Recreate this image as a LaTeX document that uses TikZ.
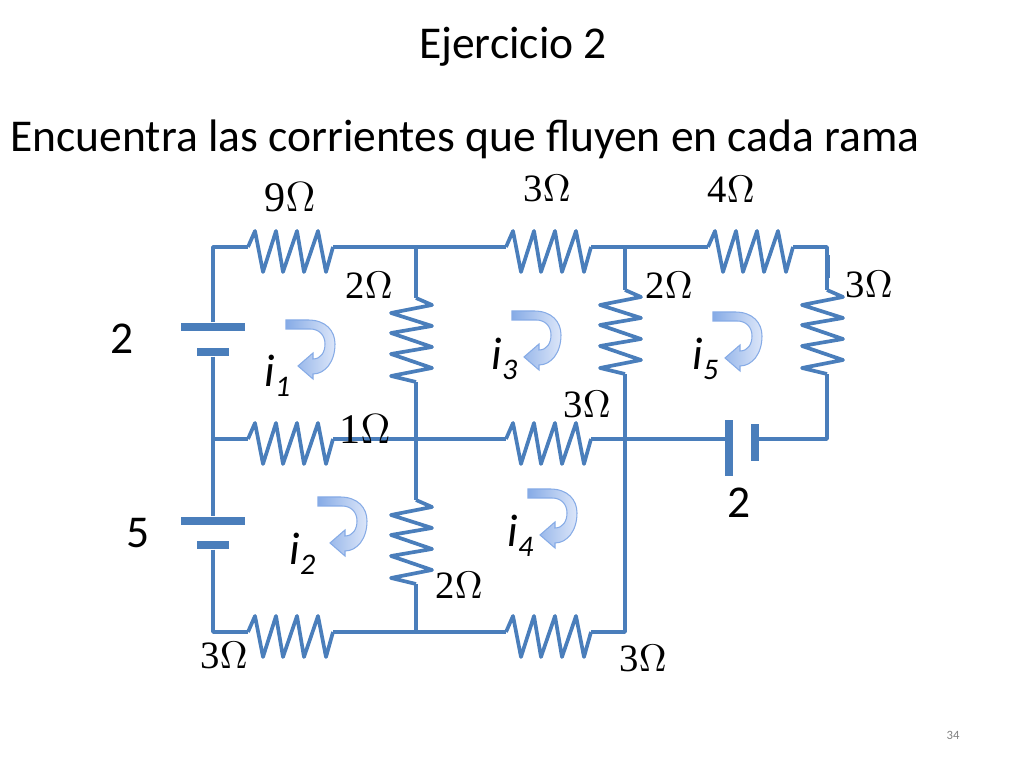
\documentclass[tikz,border=0pt]{standalone}
\usepackage{fontspec}
\setmainfont{Carlito}
\newfontfamily\ohmfont{Liberation Serif}
\definecolor{wireblue}{HTML}{4A7EBB}
\definecolor{arrowdark}{HTML}{86ABE6}
\definecolor{arrowpale}{HTML}{DCE6F9}
\newcommand{\loopi}[1]{i\raisebox{-2.8pt}{\fontsize{8.5}{9}\selectfont #1}}
\begin{document}
\begin{tikzpicture}[x=.01cm,y=-.01cm]
      \tikzset{wire/.style={draw=wireblue,line width=1.05pt,line join=round}}
      \tikzset{stub/.style={draw=wireblue,line width=1.3pt}}
      \tikzset{longplate/.style={fill=wireblue,inner sep=0pt,minimum width=.64cm,minimum height=.08cm}}
      \tikzset{shortplate/.style={fill=wireblue,inner sep=0pt,minimum width=.32cm,minimum height=.08cm}}
      \tikzset{ohm/.style={font=\ohmfont\fontsize{11}{12}\selectfont,inner sep=0pt}}
      \tikzset{bigohm/.style={font=\ohmfont\fontsize{12}{13}\selectfont,inner sep=0pt}}
      \tikzset{bigtext/.style={font=\fontsize{12.95}{14}\selectfont,inner sep=0pt}}
      \tikzset{loopname/.style={font=\fontsize{13}{14}\selectfont\itshape,inner sep=0pt,anchor=base west}}
      \tikzset{hres/.pic={\draw[wire] (0,0) coordinate (-in) -- (7,-16) -- (15,25) -- (28,-16) -- (35,25) -- (49,-16) -- (56,25) -- (70,-16) -- (78,25) -- (85,0) coordinate (-out);}}
      \tikzset{vres/.pic={\draw[wire] (0,0) coordinate (-in) -- (16,7) -- (-25,15) -- (16,28) -- (-25,35) -- (16,49) -- (-25,56) -- (16,70) -- (-25,78) -- (0,84) coordinate (-out);}}
      \tikzset{loopback/.pic={\draw[draw=arrowdark,line width=.3pt,left color=arrowdark,right color=arrowpale]
        (0,0) -- (22,0) .. controls (40,0) and (49,11) .. (49,24) .. controls (49,42) and (39,54) .. (27,54) -- (27,59) -- (12,46) -- (27,33) -- (27,39) .. controls (35,39) and (39,32) .. (39,24) .. controls (39,15) and (33,9) .. (24,9) -- (0,9) -- cycle;}}
      \useasboundingbox (0,0) rectangle (1024,768);
      % corners and junctions
      \coordinate (tl) at (213,247);
      \coordinate (ta) at (416,247);
      \coordinate (tb) at (625,247);
      \coordinate (tr) at (827,247);
      \coordinate (ml) at (213,439);
      \coordinate (ma) at (416,439);
      \coordinate (mb) at (625,439);
      \coordinate (mr) at (827,439);
      \coordinate (bl) at (213,632);
      \coordinate (ba) at (416,632);
      \coordinate (bb) at (625,632);
      % resistors
      \pic (rnine) at (248,247) {hres};
      \pic (rthree) at (506,247) {hres};
      \pic (rfour) at (708,247) {hres};
      \pic (rone) at (248,439) {hres};
      \pic (rmid) at (506,439) {hres};
      \pic (rlow) at (248,632) {hres};
      \pic (rend) at (506,632) {hres};
      \pic (va) at (416,298) {vres};
      \pic (vb) at (625,290) {vres};
      \pic (vc) at (827,290) {vres};
      \pic (vd) at (416,500) {vres};
      % cells
      \node[longplate] (capa) at (213,327) {};
      \node[shortplate] (cbpa) at (213,352) {};
      \node[longplate] (capb) at (213,521) {};
      \node[shortplate] (cbpb) at (213,545) {};
      \node[longplate,rotate=90,minimum width=.56cm] (capc) at (729,448) {};
      \node[shortplate,rotate=90,minimum width=.37cm] (cbpc) at (755,443) {};
      % wires
      \draw[wire] (capa) -- (tl) -- (rnine-in);
      \draw[wire] (rnine-out) -- (ta) -- (rthree-in);
      \draw[wire] (rthree-out) -- (tb) -- (rfour-in);
      \draw[wire] (rfour-out) -- (tr) -- (vc-in);
      \draw[wire] (cbpa) -- (ml) -- (capb);
      \draw[wire] (cbpb) -- (bl) -- (rlow-in);
      \draw[wire] (rlow-out) -- (ba) -- (rend-in);
      \draw[wire] (rend-out) -- (bb) -- (mb) -- (vb-out);
      \draw[wire] (vb-in) -- (tb);
      \draw[wire] (ml) -- (rone-in);
      \draw[wire] (rone-out) -- (ma) -- (rmid-in);
      \draw[wire] (rmid-out) -- (mb) -- (capc |- mb);
      \draw[wire] (cbpc |- mr) -- (mr) -- (vc-out);
      \draw[wire] (ta) -- (va-in);
      \draw[wire] (va-out) -- (ma) -- (vd-in);
      \draw[wire] (vd-out) -- (ba);
      % thicker bits
      \foreach \xa/\ya/\yb in {416/265/278,625/265/278,828/255/278,625/400/408,827/401/408,416/417/425,416/602/617}
        \draw[stub] (\xa,\ya) -- (\xa,\yb);
      % loop arrows
      \pic at (286,320) {loopback};
      \pic at (512,311) {loopback};
      \pic at (713,312) {loopback};
      \pic at (318,497) {loopback};
      \pic at (528,489) {loopback};
      % texts
      \node[bigtext] (title) at (513,47) {Ejercicio 2};
      \node[bigtext] (task) at (465,139) {Encuentra las corrientes que fluyen en cada rama};
      \node[bigohm] (lnine) at (290,197) {9$\Omega$};
      \node[ohm] (lthree) at (547,189) {3$\Omega$};
      \node[ohm] (lfour) at (731,189) {4$\Omega$};
      \node[ohm] (lb) at (369,285) {2$\Omega$};
      \node[ohm] (lc) at (669,285) {2$\Omega$};
      \node[ohm] (ld) at (869,285) {3$\Omega$};
      \node[ohm] (le) at (587,405) {3$\Omega$};
      \node[bigohm] (lone) at (365,429) {1$\Omega$};
      \node[ohm] (lf) at (459,585) {2$\Omega$};
      \node[ohm] (lg) at (224,656) {3$\Omega$};
      \node[ohm] (lh) at (643,659) {3$\Omega$};
      \node[bigtext] (vone) at (122,339) {2};
      \node[bigtext] (vtwo) at (138,533) {5};
      \node[bigtext] (vthree) at (739,503) {2};
      \node[loopname] (ia) at (264,387) {\loopi{1}};
      \node[loopname] (ic) at (491,370) {\loopi{3}};
      \node[loopname] (ie) at (692,370) {\loopi{5}};
      \node[loopname] (ib) at (289,565) {\loopi{2}};
      \node[loopname] (id) at (507,547) {\loopi{4}};
      \node[font=\fontsize{3.6}{4}\selectfont,text=gray,inner sep=0pt] (page) at (953,735) {34};
    \end{tikzpicture}
\end{document}
